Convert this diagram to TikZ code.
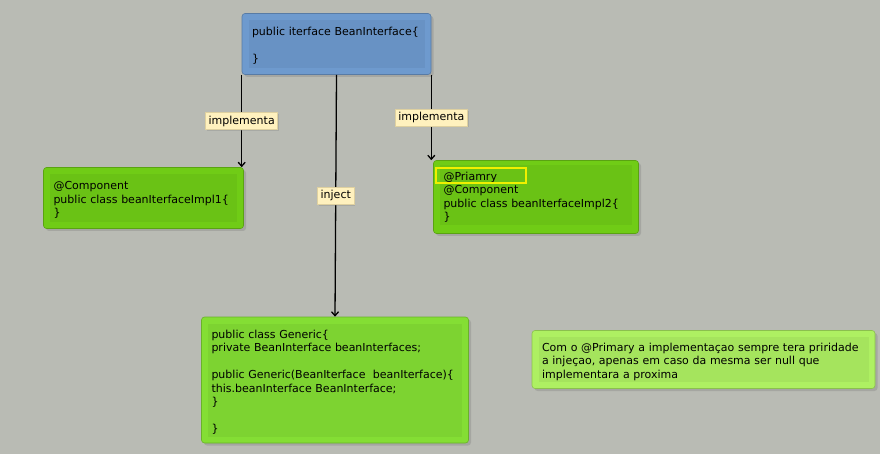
\documentclass[tikz,border=0pt]{standalone}
\usepackage{fontspec}
\setmainfont{DejaVu Sans}
\usetikzlibrary{arrows.meta,shadows}
\definecolor{canvas}{RGB}{185,187,180}
\definecolor{ifaceblue}{RGB}{110,154,206}
\definecolor{implgreen}{RGB}{112,204,22}
\definecolor{usegreen}{RGB}{132,222,52}
\definecolor{notegreen}{RGB}{174,240,98}
\definecolor{tagfill}{RGB}{255,241,190}
\definecolor{tagline}{RGB}{222,208,160}
\definecolor{markyellow}{RGB}{240,240,0}
\begin{document}
\begin{tikzpicture}[x=1pt,y=-1pt,>={Straight Barb[length=4pt,width=7pt]},
	every node/.style={font=\fontsize{11}{13.5}\selectfont},
	frame/.style={rectangle,rounded corners=3pt,inner sep=0pt,fill=#1,draw=#1!80!black,line width=.6pt,
		drop shadow={shadow xshift=2.5pt,shadow yshift=-2.5pt,opacity=.35}},
	code/.style={rectangle,fill=#1!95!black,align=left,inner xsep=3.5pt,inner ysep=0pt,
		execute at begin node={\rule{0pt}{12.4pt}}},
	tag/.style={fill=tagfill,draw=tagline,line width=.5pt,inner sep=3pt,
		drop shadow={shadow xshift=1.5pt,shadow yshift=-1.5pt,opacity=.3}},
	link/.style={->,line width=1.3pt}]
	\useasboundingbox[fill=canvas] (0,0) rectangle (880,454);
	% interface
	\node[frame=ifaceblue,minimum width=189,minimum height=61] (iface) at (336.5,44) {};
	\node[code=ifaceblue,text width=169,minimum height=48] (ifacecode) at (336.5,44)
	{public iterface BeanInterface\{\\\mbox{}\\\}};
	% implementations
	\node[frame=implgreen,minimum width=200,minimum height=61] (impl1) at (143.5,198) {};
	\node[code=implgreen,text width=180,minimum height=48] (impl1code) at (143.5,198)
	{@Component\\public class beanIterfaceImpl1\{\\\}};
	\node[frame=implgreen,minimum width=205,minimum height=73] (impl2) at (536,197) {};
	\node[code=implgreen,text width=185,minimum height=60] (impl2code) at (536,195)
	{@Priamry\\@Component\\public class beanIterfaceImpl2\{\\\}};
	\node[draw=markyellow,line width=2.5pt,minimum width=90,minimum height=15,inner sep=0pt] (primary) at (481,175.5) {};
	% user of the interface
	\node[frame=usegreen,minimum width=267,minimum height=126] (generic) at (335,380) {};
	\node[code=usegreen,text width=247,minimum height=113] (genericcode) at (335,380)
	{public class Generic\{\\private BeanInterface beanInterfaces;\\\mbox{}\\
		public Generic(BeanIterface~ beanIterface)\{\\this.beanInterface BeanInterface;\\\}\\\mbox{}\\\}};
	% note
	\node[frame=notegreen,minimum width=343,minimum height=58] (note) at (703.5,359.5) {};
	\node[code=notegreen,text width=323,minimum height=45] (notecode) at (703.5,359.5)
	{Com o @Primary a implementaçao sempre tera priridade\\a injeçao, apenas em caso da mesma ser null que\\implementara a proxima};
	% connectors
	\draw[link] (iface.south west) -- node[tag] (tagimpl1) {implementa} (iface.south west |- impl1.north);
	\draw[link] (iface.south) -- node[tag] (taginject) {inject} (generic.north);
	\draw[link] (iface.south east) -- node[tag] (tagimpl2) {implementa} (iface.south east |- impl2.north);
\end{tikzpicture}
\end{document}
